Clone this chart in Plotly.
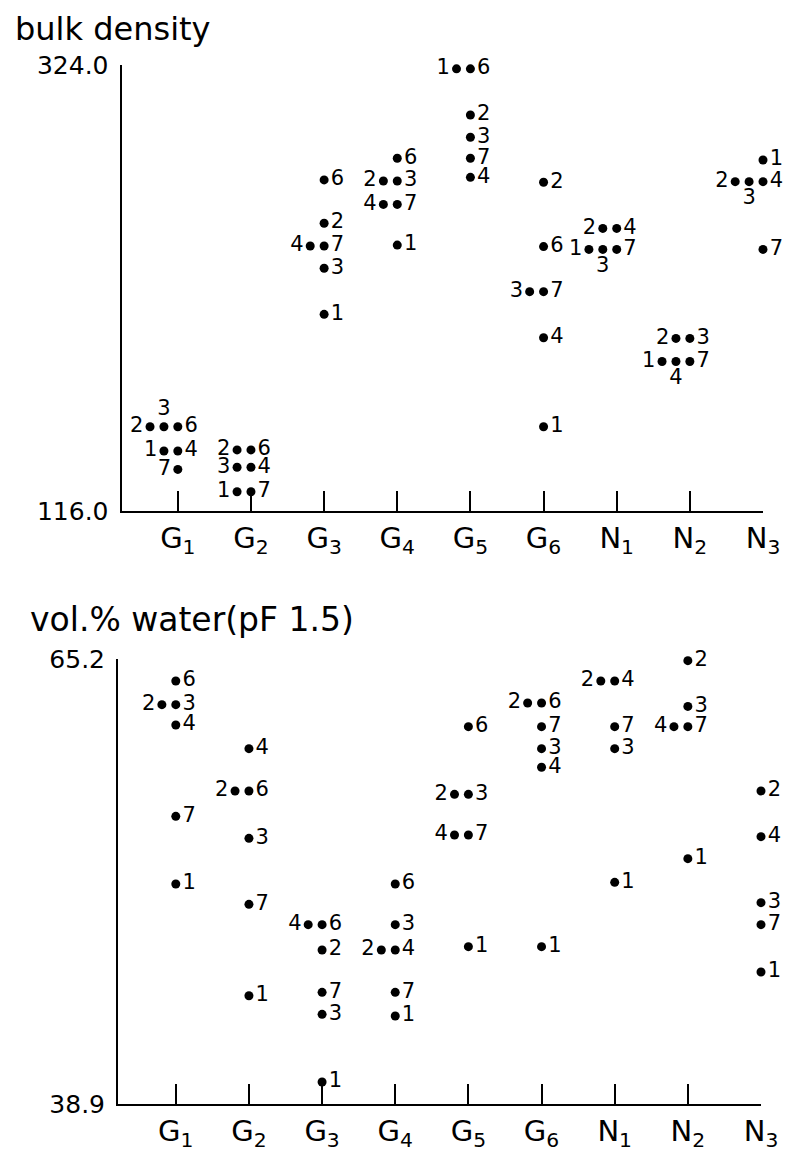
import plotly.graph_objects as go

groups = ["G1", "G2", "G3", "G4", "G5", "G6", "N1", "N2", "N3"]
group_labels = ["G<sub>1</sub>", "G<sub>2</sub>", "G<sub>3</sub>", "G<sub>4</sub>", "G<sub>5</sub>",
                "G<sub>6</sub>", "N<sub>1</sub>", "N<sub>2</sub>", "N<sub>3</sub>"]
samples = [1, 2, 3, 4, 6, 7]

# bulk density per sample, across groups
bd_1 = [144.0, 125.0, 207.7, 240.0, 322.2, 155.3, 238.0, 185.7, 279.7]
bd_2 = [155.3, 144.5, 250.2, 269.9, 300.7, 269.3, 247.8, 196.5, 269.6]
bd_3 = [155.3, 136.4, 229.2, 269.9, 290.3, 218.3, 238.0, 196.5, 269.6]
bd_4 = [144.0, 136.4, 239.6, 259.0, 271.6, 196.8, 247.8, 185.7, 269.6]
bd_6 = [155.3, 144.5, 270.4, 280.5, 322.2, 239.3, None, None, None]
bd_7 = [135.4, 125.0, 239.6, 259.0, 280.5, 218.3, 238.0, 185.7, 238.0]

# vol.% water (pF 1.5) per sample, across groups
wat_1 = [51.9, 45.3, 40.2, 44.1, 48.2, 48.2, 52.0, 53.4, 46.7]
wat_2 = [62.5, 57.4, 48.0, 48.0, 57.2, 62.6, 63.9, 65.1, 57.4]
wat_3 = [62.5, 54.6, 44.2, 49.5, 57.2, 59.9, 59.9, 62.4, 50.8]
wat_4 = [61.3, 59.9, 49.5, 48.0, 54.8, 58.8, 63.9, 61.2, 54.7]
wat_6 = [63.9, 57.4, 49.5, 51.9, 61.2, 62.6, None, None, None]
wat_7 = [55.9, 50.7, 45.5, 45.5, 54.8, 61.2, 61.2, 61.2, 49.5]

bd_range = [116.0, 324.0]
wat_range = [38.9, 65.2]

bd_series = [bd_1, bd_2, bd_3, bd_4, bd_6, bd_7]
wat_series = [wat_1, wat_2, wat_3, wat_4, wat_6, wat_7]

# label placement overrides (style only)
overrides = {("bd", 0, 7): "middle left", ("bd", 0, 3): "top center"}

STEP = 0.19  # horizontal spacing of coinciding dots (axis units)
FONT = "DejaVu Sans, Liberation Sans, sans-serif"


def layout_points(series, key):
    xs, ys, txt, pos = [], [], [], []
    for gi in range(len(groups)):
        vals = [(s, ser[gi]) for s, ser in zip(samples, series) if ser[gi] is not None]
        clusters = {}
        for s, v in vals:
            clusters.setdefault(v, []).append(s)
        for v, members in clusters.items():
            members = sorted(members)
            n = len(members)
            for j, s in enumerate(members):
                xs.append(gi + 1 - (n - 1 - j) * STEP)
                ys.append(v)
                txt.append(str(s))
                if n == 1:
                    p = "middle right"
                elif j == 0:
                    p = "middle left"
                elif j == n - 1:
                    p = "middle right"
                else:
                    p = "bottom center"
                pos.append(overrides.get((key, gi, s), p))
    return xs, ys, txt, pos


fig = go.Figure()
for series, key, xa, ya in [(bd_series, "bd", "x", "y"), (wat_series, "wat", "x2", "y2")]:
    xs, ys, txt, pos = layout_points(series, key)
    fig.add_trace(go.Scatter(
        x=xs, y=ys, text=txt, textposition=pos, mode="markers+text",
        marker=dict(color="black", size=9),
        textfont=dict(family=FONT, size=21, color="black"),
        cliponaxis=False, xaxis=xa, yaxis=ya, hoverinfo="skip"))

xcommon = dict(tickmode="array", tickvals=list(range(1, 10)), ticktext=group_labels,
               ticks="inside", ticklen=20, tickwidth=2, tickcolor="black", automargin=False,
               showline=True, linewidth=2, linecolor="black", showgrid=False, zeroline=False,
               tickfont=dict(family=FONT, size=29, color="black"))
ycommon = dict(ticks="inside", ticklen=24, tickwidth=2, tickcolor="black", automargin=False,
               showline=True, linewidth=2, linecolor="black", showgrid=False, zeroline=False,
               tickfont=dict(family=FONT, size=25, color="black"), ticklabelstandoff=6)

fig.update_layout(
    width=787, height=1152, margin=dict(l=0, r=0, t=0, b=0, autoexpand=False),
    paper_bgcolor="white", plot_bgcolor="white", showlegend=False,
    xaxis=dict(xcommon, domain=[121.5 / 787, 763 / 787], range=[0.23, 9], anchor="y"),
    yaxis=dict(ycommon, domain=[1 - 511 / 1152, 1 - 65 / 1152], range=bd_range, anchor="x",
               tickvals=bd_range, ticktext=["%.1f" % v for v in bd_range]),
    xaxis2=dict(xcommon, domain=[118 / 787, 761 / 787], range=[0.21, 9], anchor="y2"),
    yaxis2=dict(ycommon, domain=[1 - 1104 / 1152, 1 - 659 / 1152], range=wat_range, anchor="x2",
                tickvals=wat_range, ticktext=["%.1f" % v for v in wat_range]),
    annotations=[
        dict(text="bulk density", xref="paper", yref="paper", x=13 / 787, y=1 - 29 / 1152,
             xanchor="left", yanchor="middle", showarrow=False,
             font=dict(family=FONT, size=32, color="black")),
        dict(text="vol.% water(pF 1.5)", xref="paper", yref="paper", x=28 / 787, y=1 - 619 / 1152,
             xanchor="left", yanchor="middle", showarrow=False,
             font=dict(family=FONT, size=33, color="black")),
    ],
)

fig.write_html("out.html", config={"displayModeBar": False},
               post_script="document.body.style.margin='0';document.body.style.overflow='hidden';")
